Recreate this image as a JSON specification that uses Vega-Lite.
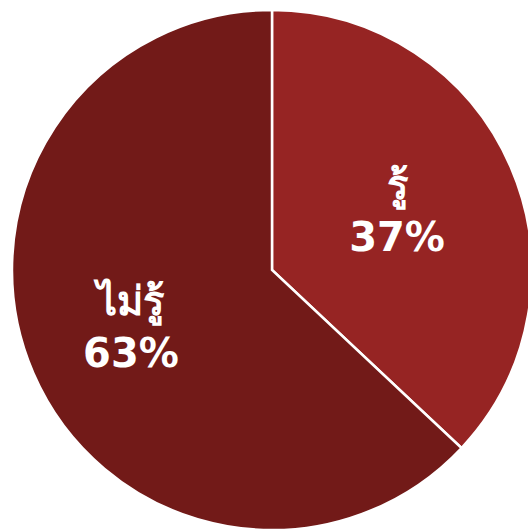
{
  "$schema": "https://vega.github.io/schema/vega-lite/v6.json",
  "autosize": {"type": "none"},
  "padding": {"left": 16, "top": 9, "right": 0, "bottom": 0},
  "width": 512,
  "height": 522,
  "background": "white",
  "view": {"stroke": null},
  "data": {
    "values": [
      {"category": "รู้", "value": 37, "label": "รู้\n37%", "ord": 1},
      {"category": "ไม่รู้", "value": 63, "label": "ไม่รู้\n63%", "ord": 2}
    ]
  },
  "encoding": {
    "theta": {"field": "value", "type": "quantitative", "stack": true},
    "order": {"field": "ord", "type": "quantitative"}
  },
  "layer": [
    {
      "mark": {"type": "arc", "outerRadius": 260, "stroke": "white", "strokeWidth": 2.5},
      "encoding": {
        "color": {
          "field": "category",
          "type": "nominal",
          "scale": {"domain": ["รู้", "ไม่รู้"], "range": ["#962423", "#721a18"]},
          "legend": null
        }
      }
    },
    {
      "mark": {"type": "text", "radius": 145, "dx": -8, "dy": -25, "color": "white", "font": "DejaVu Sans", "fontWeight": "bold", "fontSize": 40, "lineBreak": "\n", "lineHeight": 52, "baseline": "middle", "align": "center"},
      "encoding": {
        "text": {"field": "label", "type": "nominal"}
      }
    }
  ]
}
